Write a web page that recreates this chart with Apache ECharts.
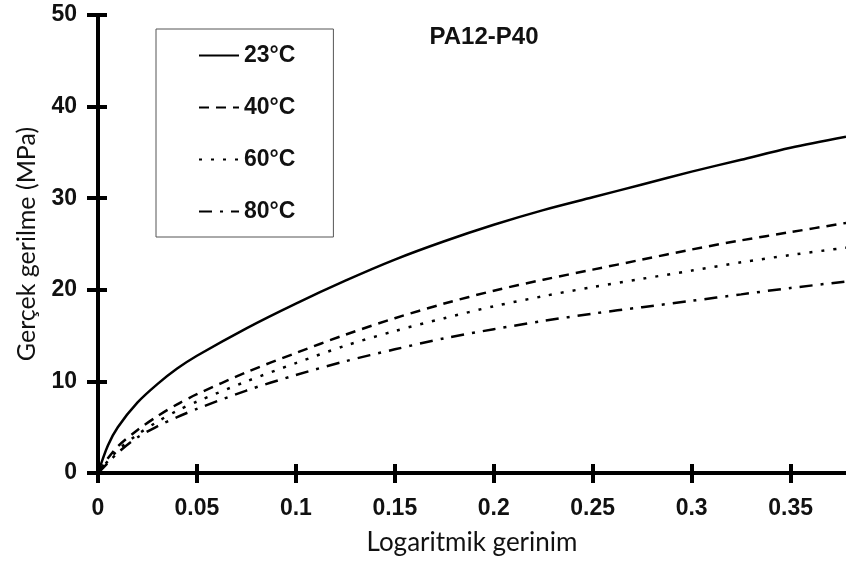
<!DOCTYPE html>
<html>
<head>
<meta charset="utf-8">
<script src="https://cdn.jsdelivr.net/npm/echarts@6/dist/echarts.min.js"></script>
<style>html,body{margin:0;padding:0;background:#fff;}#c{width:846px;height:568px;}</style>
</head>
<body>
<div id="c"></div>
<script>
const strain = [0, 0.005, 0.01, 0.02, 0.03, 0.04, 0.05, 0.075, 0.1, 0.125, 0.15, 0.175, 0.2, 0.225, 0.25, 0.275, 0.3, 0.325, 0.35, 0.378];
const s23 = [0, 3.0, 5.0, 7.7, 9.7, 11.4, 12.8, 15.8, 18.5, 21.0, 23.3, 25.3, 27.1, 28.7, 30.1, 31.5, 32.9, 34.2, 35.5, 36.7];
const s40 = [0, 1.6, 2.9, 4.7, 6.2, 7.5, 8.6, 11.0, 13.1, 15.1, 16.9, 18.5, 19.9, 21.1, 22.2, 23.3, 24.4, 25.4, 26.3, 27.3];
const s60 = [0, 1.3, 2.5, 4.2, 5.6, 6.8, 7.8, 10.0, 12.0, 13.9, 15.5, 16.9, 18.2, 19.3, 20.3, 21.2, 22.1, 23.0, 23.8, 24.6];
const s80 = [0, 1.1, 2.2, 3.9, 5.1, 6.1, 7.0, 9.0, 10.7, 12.2, 13.5, 14.7, 15.7, 16.6, 17.4, 18.1, 18.8, 19.5, 20.2, 20.9];
const seriesNames = ['23°C', '40°C', '60°C', '80°C'];
const xTicks = [0, 0.05, 0.1, 0.15, 0.2, 0.25, 0.3, 0.35];
const xTickLabels = ['0', '0.05', '0.1', '0.15', '0.2', '0.25', '0.3', '0.35'];
const yTicks = [0, 10, 20, 30, 40, 50];
const titleText = 'PA12-P40';
const xName = 'Logaritmik gerinim';
const yName = 'Gerçek gerilme (MPa)';

const dashes = ['solid', [10, 7], [3, 9], [13, 8, 3, 8]];
const allData = [s23, s40, s60, s80];

const chart = echarts.init(document.getElementById('c'), null, {renderer: 'canvas'});
const boldFont = {fontFamily: 'Liberation Sans', fontWeight: 'bold', fontSize: 23, color: '#111'};

const xBase = {
  type: 'value', min: 0, max: 0.378, gridIndex: 0,
  splitLine: {show: false}
};
const yBase = {
  type: 'value', min: 0, max: 50, interval: 10, gridIndex: 0,
  splitLine: {show: false}
};

chart.setOption({
  backgroundColor: '#fff',
  animation: false,
  title: {
    text: titleText, left: 479, top: 20, textAlign: 'center',
    textStyle: {fontFamily: 'Liberation Sans', fontWeight: 'bold', fontSize: 24, color: '#111'}
  },
  legend: {
    data: seriesNames,
    orient: 'vertical',
    left: 156, top: 29,
    padding: [15, 38, 14, 42],
    itemWidth: 40, itemHeight: 20, itemGap: 29,
    borderColor: '#555', borderWidth: 1,
    itemStyle: {opacity: 0},
    lineStyle: {width: 2},
    textStyle: Object.assign({}, boldFont, {lineHeight: 20})
  },
  grid: {left: 98, right: 0, top: 15, bottom: 95, containLabel: false},
  xAxis: [
    Object.assign({}, xBase, {
      name: xName, nameLocation: 'middle', nameGap: 57,
      nameTextStyle: {fontFamily: 'Lato', fontSize: 26, color: '#111'},
      axisLine: {show: true, lineStyle: {color: '#000', width: 4}},
      axisTick: {show: true, inside: false, length: 10, lineStyle: {width: 4, color: '#000'}, customValues: xTicks},
      axisLabel: {show: true, margin: 24, customValues: xTicks,
        formatter: v => xTickLabels[xTicks.findIndex(t => Math.abs(t - v) < 1e-9)] || '',
        fontFamily: 'Liberation Sans', fontWeight: 'bold', fontSize: 23, color: '#111'}
    }),
    Object.assign({}, xBase, {
      position: 'bottom',
      axisLine: {show: false},
      axisTick: {show: true, inside: true, length: 9, lineStyle: {width: 4, color: '#000'}, customValues: xTicks},
      axisLabel: {show: false}
    })
  ],
  yAxis: [
    Object.assign({}, yBase, {
      name: yName, nameLocation: 'middle', nameGap: 59,
      nameTextStyle: {fontFamily: 'Lato', fontSize: 25, color: '#111'},
      axisLine: {show: true, lineStyle: {color: '#000', width: 4}},
      axisTick: {show: true, inside: false, length: 11, lineStyle: {width: 4, color: '#000'}},
      axisLabel: {show: true, margin: 21, fontFamily: 'Liberation Sans', fontWeight: 'bold', fontSize: 23, color: '#111'}
    }),
    Object.assign({}, yBase, {
      position: 'left',
      axisLine: {show: false},
      axisTick: {show: true, inside: true, length: 9, lineStyle: {width: 4, color: '#000'}},
      axisLabel: {show: false}
    })
  ],
  series: seriesNames.map((name, i) => ({
    name: name,
    type: 'line',
    xAxisIndex: 0, yAxisIndex: 0,
    smooth: 0.3,
    symbol: 'none',
    data: strain.map((x, j) => [x, allData[i][j]]),
    lineStyle: {color: '#000', width: 2.5, type: dashes[i]},
    itemStyle: {color: '#000'}
  }))
});
</script>
</body>
</html>
